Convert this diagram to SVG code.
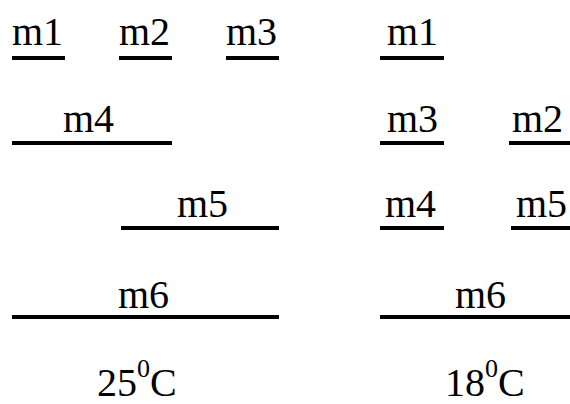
<svg xmlns="http://www.w3.org/2000/svg" width="570" height="404" viewBox="0 0 570 404">
<style>
text{font-family:"Liberation Serif","Times New Roman",serif;font-size:40px;fill:#000}
.sup{font-size:26px}
line{stroke:#000;stroke-width:4}
</style>
<rect width="570" height="404" fill="#fff"/>
<g id="left-25C">
<g id="L-m1"><text x="12" y="45">m1</text><line x1="12" y1="58" x2="65" y2="58"/></g>
<g id="L-m2"><text x="119" y="45">m2</text><line x1="119" y1="58" x2="172" y2="58"/></g>
<g id="L-m3"><text x="226" y="45">m3</text><line x1="226" y1="58" x2="279" y2="58"/></g>
<g id="L-m4"><text x="63" y="132">m4</text><line x1="12" y1="143" x2="172" y2="143"/></g>
<g id="L-m5"><text x="177" y="217">m5</text><line x1="121" y1="228" x2="279" y2="228"/></g>
<g id="L-m6"><text x="118" y="308">m6</text><line x1="12" y1="317" x2="279" y2="317"/></g>
<g id="L-temp"><text x="97" y="396">25<tspan class="sup" dy="-19">0</tspan><tspan dy="19">C</tspan></text></g>
</g>
<g id="right-18C">
<g id="R-m1"><text x="387" y="45">m1</text><line x1="380" y1="58" x2="444" y2="58"/></g>
<g id="R-m3"><text x="387" y="132">m3</text><line x1="380" y1="143" x2="444" y2="143"/></g>
<g id="R-m2"><text x="512" y="132">m2</text><line x1="509" y1="143" x2="570" y2="143"/></g>
<g id="R-m4"><text x="385" y="217">m4</text><line x1="380" y1="228" x2="444" y2="228"/></g>
<g id="R-m5"><text x="516" y="217">m5</text><line x1="511" y1="228" x2="570" y2="228"/></g>
<g id="R-m6"><text x="455" y="308">m6</text><line x1="380" y1="317" x2="570" y2="317"/></g>
<g id="R-temp"><text x="445" y="396">18<tspan class="sup" dy="-19">0</tspan><tspan dy="19">C</tspan></text></g>
</g>
<g id="connectors"/>
</svg>
